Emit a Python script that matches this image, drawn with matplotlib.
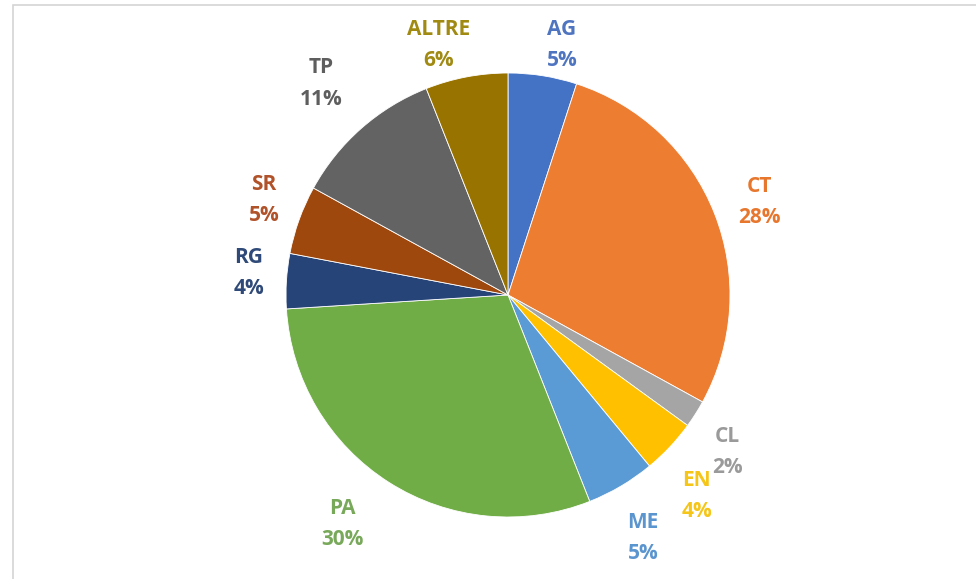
import numpy as np
import matplotlib
matplotlib.use("Agg")
import matplotlib.pyplot as plt
from matplotlib.patches import Rectangle

labels = ["AG", "CT", "CL", "EN", "ME", "PA", "RG", "SR", "TP", "ALTRE"]
shares = [5, 28, 2, 4, 5, 30, 4, 5, 11, 6]
colors = ["#4472C4", "#ED7D31", "#A5A5A5", "#FFC000", "#5B9BD5",
          "#70AD47", "#264478", "#9E480E", "#636363", "#997300"]
label_colors = ["#4F74C0", "#E8772E", "#9A9A9A", "#F5C518", "#5B95CF",
                "#78A85A", "#2F4A78", "#B0522A", "#5E5E5E", "#A08A12"]

W, H = 976, 579
cx, cy, R = 508, 295, 222

fig = plt.figure(figsize=(W / 100, H / 100), dpi=100)
ax = fig.add_axes([0, 0, 1, 1])

wedges, _ = ax.pie(shares, colors=colors, startangle=90, counterclock=False,
                   radius=1, center=(0, 0),
                   wedgeprops=dict(edgecolor="white", linewidth=0.6))
# pie resets the limits, so map axes units to pixels afterwards
ax.set_xlim(-cx / R, (W - cx) / R)
ax.set_ylim(-(H - cy) / R, cy / R)
ax.axis("off")

# label distances / angle tweaks (Excel "best fit" style placement)
dist = [1.152, 1.206, 1.214, 1.243, 1.252, 1.274, 1.171, 1.18, 1.27, 1.169]
nudge = [-3.2, -1.3, -3.2, -3.6, -1.5, -3.5, -1.3, -1.5, 0, 4.8]
for w, lab, s, c, d, n in zip(wedges, labels, shares, label_colors, dist, nudge):
    ang = np.deg2rad((w.theta1 + w.theta2) / 2 + n)
    ax.text(d * np.cos(ang), d * np.sin(ang), f"{lab}\n{s}%", color=c,
            ha="center", va="center", fontsize=15, fontweight="bold",
            family=["Open Sans", "DejaVu Sans"], linespacing=1.65)

fig.patches.append(Rectangle((13 / W, -0.1), 1.1, 1 - 5 / H + 0.1,
                             transform=fig.transFigure, fill=False,
                             edgecolor="#D4D4D4", linewidth=1.2))

fig.savefig("out.png", dpi=100, facecolor="white")
